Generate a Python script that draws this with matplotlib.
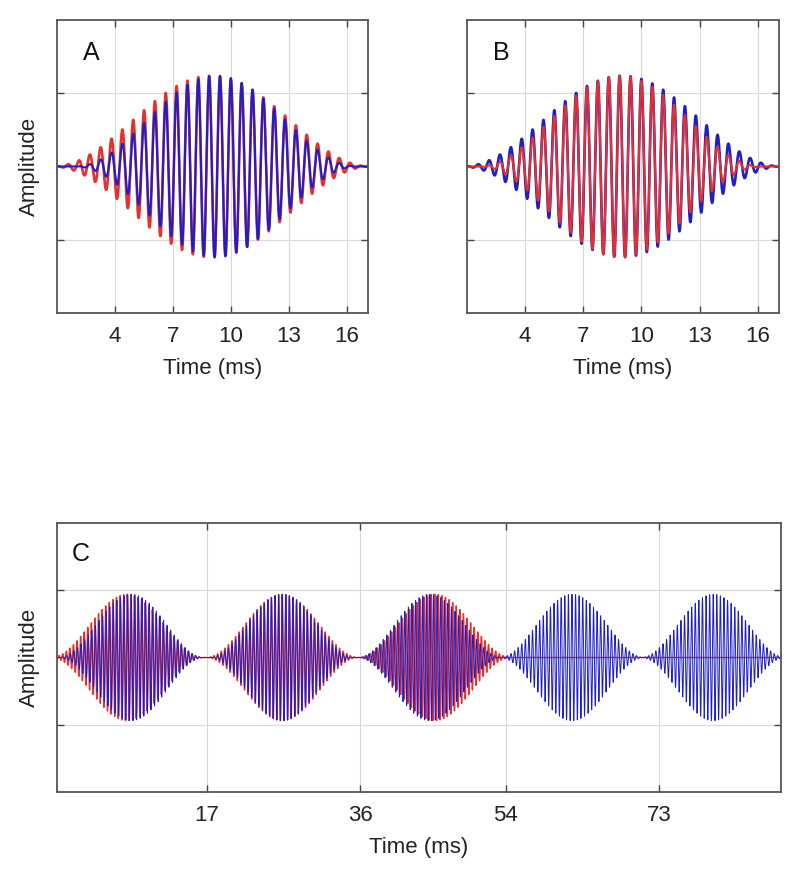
import numpy as np
import matplotlib.pyplot as plt

plt.rcParams['font.family'] = ['Liberation Sans', 'DejaVu Sans']

# panels A and B: one tone burst per trace, Hann envelope
ab_xlim = (1.0, 17.1)
ab_xticks = [4, 7, 10, 13, 16]
ab_carrier_khz = 1.78
ab_peak = 0.62
ab_phase_ref = 10.0
# (centre ms, window length ms)
a_blue = (9.25, 14.6)
a_red = (9.0, 16.5)
b_blue = (9.0, 16.5)
b_red = (8.9, 14.6)

# panel C: train of bursts
c_xlim = (-1.6, 88.1)
c_xticks = [17, 36, 54, 73]
c_xticklabels = ['17', '36', '54', '73']
c_carrier_khz = 2.25
c_peak = 0.47
c_blue_centres = [7.6, 26.3, 44.6, 62.2, 79.7]
c_red_centres = [7.1, 26.3, 45.2]
c_blue_len = 18.0
c_red_len = 19.0

y_lim = (-1, 1)
y_ticks = [-0.5, 0.5]

blue = '#1f1fc8'
red = '#e8302a'


def tone_burst(t, centre, length, peak, freq, phase_ref):
    d = t - centre
    env = np.where(np.abs(d) < length / 2, 0.5 * (1 + np.cos(2 * np.pi * d / length)), 0.0)
    return peak * env * np.cos(2 * np.pi * freq * (t - phase_ref))


def style_axes(ax):
    ax.set_ylim(*y_lim)
    ax.set_yticks(y_ticks)
    ax.set_yticklabels([])
    ax.grid(True, color='#d8d8d8', linewidth=0.8)
    ax.set_axisbelow(True)
    ax.tick_params(direction='in', length=5, width=1, colors='#444444',
                   top=True, right=True, labelsize=16, pad=9, labelcolor='#222222')
    for s in ax.spines.values():
        s.set_color('#555555')
        s.set_linewidth(1.3)


fig = plt.figure(figsize=(8, 8.71), dpi=100)
W, H = 800, 871
ax_a = fig.add_axes([57 / W, 1 - 313 / H, 311 / W, 293 / H])
ax_b = fig.add_axes([467 / W, 1 - 313 / H, 312 / W, 293 / H])
ax_c = fig.add_axes([57 / W, 1 - 792 / H, 724 / W, 269 / H])

t_ab = np.arange(ab_xlim[0], ab_xlim[1], 0.004)

# A: red under blue
ax_a.plot(t_ab, tone_burst(t_ab, *a_red, ab_peak, ab_carrier_khz, ab_phase_ref), color=red, lw=1.9)
ax_a.plot(t_ab, tone_burst(t_ab, *a_blue, ab_peak, ab_carrier_khz, ab_phase_ref), color=blue, lw=1.5)
# B: blue under red
ax_b.plot(t_ab, tone_burst(t_ab, *b_blue, ab_peak, ab_carrier_khz, ab_phase_ref), color=blue, lw=1.9)
ax_b.plot(t_ab, tone_burst(t_ab, *b_red, ab_peak, ab_carrier_khz, ab_phase_ref), color=red, lw=1.5)

for ax, letter in [(ax_a, 'A'), (ax_b, 'B')]:
    ax.set_xlim(*ab_xlim)
    ax.set_xticks(ab_xticks)
    style_axes(ax)
    ax.set_xlabel('Time (ms)', fontsize=16, labelpad=8, color='#222222')
    ax.text(0.084, 0.93, letter, transform=ax.transAxes, fontsize=18, va='top', ha='left', color='#111111')
ax_a.set_ylabel('Amplitude', fontsize=16, labelpad=3, color='#222222')

# C
t_c = np.arange(c_xlim[0], c_xlim[1], 0.002)
red_c = sum(tone_burst(t_c, c, c_red_len, c_peak, c_carrier_khz, c) for c in c_red_centres)
blue_c = sum(tone_burst(t_c, c, c_blue_len, c_peak, c_carrier_khz, c) for c in c_blue_centres)
ax_c.plot(t_c, red_c, color=red, lw=1.0)
ax_c.plot(t_c, blue_c, color=blue, lw=0.7)
ax_c.set_xlim(*c_xlim)
ax_c.set_xticks(c_xticks)
ax_c.set_xticklabels(c_xticklabels)
style_axes(ax_c)
ax_c.set_xlabel('Time (ms)', fontsize=16, labelpad=8, color='#222222')
ax_c.set_ylabel('Amplitude', fontsize=16, labelpad=3, color='#222222')
ax_c.text(0.02, 0.93, 'C', transform=ax_c.transAxes, fontsize=18, va='top', ha='left', color='#111111')

fig.savefig('out.png', dpi=100)
